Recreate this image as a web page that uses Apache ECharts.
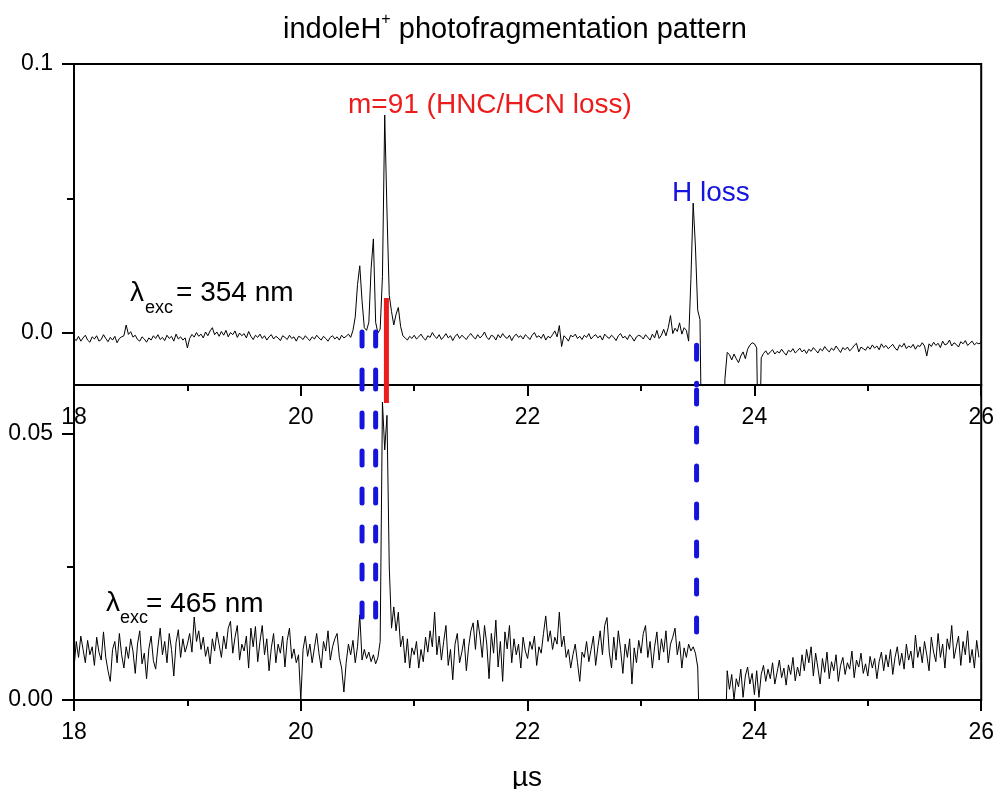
<!DOCTYPE html>
<html><head><meta charset="utf-8">
<script src="https://cdn.jsdelivr.net/npm/echarts@6/dist/echarts.min.js"></script>
<style>html,body{margin:0;padding:0;background:#fff}#c{width:997px;height:789px}</style>
</head><body><div id="c"></div><script>
// time grid of the traces (µs)
const timeStart = 18.0;
const timeStep = 0.02;
// signal values in units of 1e-4
const valueUnit = 1e-4;
const trace354 = [
-20,-28,-12,-30,-18,-8,-26,-34,-14,-22,-10,-30,-24,-6,-20,-32,-16,-26,-12,-36,-20,-14,-10,30,-5,
5,-15,-8,-24,-30,-14,-22,-34,-18,-26,-10,-20,-6,-24,-16,-28,-8,-20,-12,-30,-4,-22,-14,-26,-18,
-55,-20,-5,-15,2,-12,-4,-18,4,-10,8,20,-6,4,-12,6,-8,10,-14,2,-6,8,-16,0,-10,
-2,-18,6,-12,-24,-8,-16,-4,-20,-10,-26,-14,-6,-22,-12,-18,-28,-10,-16,-24,-8,-20,-14,-30,-12,
-16,-24,-10,-20,-28,-14,-22,-8,-18,-26,-12,-20,-30,-16,-10,-22,-14,-26,-8,-18,-12,-4,-16,10,60,
180,250,120,20,10,40,240,350,40,0,15,210,810,450,140,80,30,70,95,25,-10,-18,-26,-12,-20,
-8,-22,-14,-4,-18,-26,-10,-16,2,-12,-20,-6,-24,-14,-2,-18,-10,-28,-12,-4,-20,-8,-16,-24,-10,
-2,-14,-22,-6,-18,-10,4,-16,-24,-8,-12,-26,-6,-18,-2,-14,-20,-8,-28,-12,-4,-16,-10,-22,-6,
-14,-24,-8,2,-16,-10,-20,-4,-26,-12,-18,-6,8,-14,28,-50,-10,-18,-30,-8,-14,-4,-20,-12,-24,
-8,-16,-2,-22,-12,-6,-18,-10,-26,-4,-14,-20,-8,-16,-28,-10,-2,-18,-12,-24,-6,-16,-30,-14,-8,
-12,-22,-6,-16,-26,-4,-18,10,-20,-8,14,-10,20,65,-2,18,6,38,-4,20,10,-30,200,483,320,
85,50,-600,-600,-600,-600,-600,-600,-600,-600,-600,-600,-170,-72,-80,-100,-78,-95,-110,-85,-70,-95,-60,-45,-36,
-40,-55,-600,-92,-76,-66,-80,-70,-62,-78,-68,-74,-60,-72,-82,-64,-70,-58,-74,-66,-56,-70,-62,-76,-60,
-68,-54,-64,-74,-58,-66,-50,-62,-70,-56,-64,-48,-60,-72,-54,-62,-52,-66,-58,-46,-38,-70,-52,-58,-64,
-50,-60,-44,-56,-48,-62,-40,-54,-46,-58,-50,-42,-56,-64,-44,-52,-38,-58,-48,-54,-42,-60,-46,-50,-36,
-48,-85,-40,-50,-34,-46,-38,-54,-30,-44,-40,-26,-48,-36,-42,-52,-32,-40,-28,-46,-38,-30,-44,-36,-40,
-34
];
const trace465 = [
60,110,80,120,95,70,112,85,100,65,118,90,75,128,80,55,35,95,110,70,125,85,60,100,78,
115,92,50,105,130,68,88,40,96,120,74,58,100,135,85,110,70,125,95,45,108,132,80,115,90,
105,125,90,156,110,130,95,118,82,100,68,115,92,128,104,80,120,96,135,148,88,118,140,75,105,
92,120,60,135,100,138,72,110,140,85,115,55,98,125,70,105,88,120,62,112,135,78,96,70,85,
0,95,120,82,105,70,98,125,88,60,110,92,130,75,100,115,125,80,60,15,70,105,85,112,70,
100,160,75,95,78,90,72,85,68,80,110,560,470,535,250,135,175,130,165,100,120,70,115,60,98,
85,110,60,95,72,118,90,130,100,165,85,120,75,110,140,65,95,38,105,125,70,90,115,55,100,
130,145,95,150,120,80,140,105,40,125,88,150,62,110,35,128,96,140,70,115,85,105,60,118,92,
78,110,95,120,65,100,88,125,158,110,130,95,118,105,165,100,120,80,95,60,85,105,70,35,90,
80,110,72,95,120,65,100,130,85,140,155,90,60,118,75,130,95,50,105,80,115,30,98,70,112,
88,125,140,80,110,60,100,128,75,115,90,130,70,105,118,135,85,110,60,98,80,105,92,100,88,
62,-100,-100,-100,-100,-100,-100,-100,-100,-100,-100,-100,-100,55,20,48,0,40,25,58,5,45,62,30,
50,10,55,5,48,65,35,58,40,70,30,52,75,42,60,28,66,48,80,36,62,45,85,55,95,
70,100,45,88,60,30,78,52,90,40,72,55,85,35,65,80,48,70,58,92,42,75,62,88,50,
68,45,82,60,78,40,72,90,55,85,62,95,48,80,100,65,88,58,105,75,92,60,122,80,100,
70,110,85,55,118,90,72,125,80,105,60,115,95,140,78,100,120,65,110,85,130,70,95,60,112,
80
];
// axis ranges and ticks
const xRange = [18, 26];
const xInterval = 2;
const xMinorValues = [19, 21, 23, 25];
const topRange = [-0.0193, 0.1];
const topTickValues = [0.0, 0.1];
const topMinorValues = [0.05];
const bottomRange = [0, 0.0592];
const bottomTickValues = [0.00, 0.05];
const bottomMinorValues = [0.025];
// fragment marker lines: time, end value in upper panel, end value in lower panel
const hLossTimes = [20.54, 20.66, 23.49];
const hLossTopEnds = [0.0004, 0.0004, -0.0045];
const hLossBottomEnds = [0.0156, 0.0156, 0.0128];
const hncTime = 20.755;
const hncTopEnd = 0.013;
const hncBottomEnd = 0.0558;

const FONT = '"Liberation Sans", Arial, sans-serif';
const BLUE = '#1414dc';
const RED = '#ec1c1c';

function toPairs(arr) {
  return arr.map((v, i) => [+(timeStart + i * timeStep).toFixed(2), v * valueUnit]);
}

const axisLineStyle = { color: '#000', width: 2 };
function xAxisCfg(gridIndex) {
  return {
    type: 'value', gridIndex, min: xRange[0], max: xRange[1], interval: xInterval, position: 'bottom',
    axisLine: { show: true, onZero: false, lineStyle: axisLineStyle },
    axisTick: { show: true, inside: false, length: 11, lineStyle: axisLineStyle },
    minorTick: { show: false },
    axisLabel: { fontSize: 23, color: '#000', fontFamily: FONT, margin: 21 },
    splitLine: { show: false }, minorSplitLine: { show: false }
  };
}
function xMinorCfg(gridIndex) {
  return {
    type: 'value', gridIndex, min: xRange[0], max: xRange[1], position: 'bottom', offset: 0,
    axisLine: { show: false, onZero: false },
    axisTick: { show: true, inside: false, length: 6, lineStyle: axisLineStyle, customValues: xMinorValues },
    axisLabel: { show: false },
    splitLine: { show: false }
  };
}
function yAxisCfg(gridIndex, range, ticks, digits) {
  return {
    type: 'value', gridIndex, min: range[0], max: range[1], position: 'left',
    axisLine: { show: true, onZero: false, lineStyle: axisLineStyle },
    axisTick: { show: true, inside: false, length: 12, lineStyle: axisLineStyle, customValues: ticks },
    axisLabel: { fontSize: 23, color: '#000', fontFamily: FONT, margin: 21, customValues: ticks,
      formatter: v => (+v).toFixed(digits) },
    splitLine: { show: false }
  };
}
function yMinorCfg(gridIndex, range, ticks) {
  return {
    type: 'value', gridIndex, min: range[0], max: range[1], position: 'left', offset: 0,
    axisLine: { show: false, onZero: false },
    axisTick: { show: true, inside: false, length: 7, lineStyle: axisLineStyle, customValues: ticks },
    axisLabel: { show: false },
    splitLine: { show: false }
  };
}

const series = [
  { type: 'line', xAxisIndex: 0, yAxisIndex: 0, data: toPairs(trace354), showSymbol: false,
    lineStyle: { color: '#000', width: 1 }, clip: true, z: 2 },
  { type: 'line', xAxisIndex: 2, yAxisIndex: 2, data: toPairs(trace465), showSymbol: false,
    lineStyle: { color: '#000', width: 1 }, clip: true, z: 2 }
];
hLossTimes.forEach((t, k) => {
  const ls = { color: BLUE, width: 5, type: [14, 24], cap: 'round' };
  series.push({ type: 'line', xAxisIndex: 0, yAxisIndex: 0, showSymbol: false, clip: true, z: 3,
    data: [[t, hLossTopEnds[k]], [t, topRange[0]]], lineStyle: ls });
  series.push({ type: 'line', xAxisIndex: 2, yAxisIndex: 2, showSymbol: false, clip: true, z: 3,
    data: [[t, hLossBottomEnds[k]], [t, bottomRange[1]]], lineStyle: ls });
});
series.push({ type: 'line', xAxisIndex: 0, yAxisIndex: 0, showSymbol: false, clip: true, z: 3,
  data: [[hncTime, hncTopEnd], [hncTime, topRange[0]]], lineStyle: { color: RED, width: 5 } });
series.push({ type: 'line', xAxisIndex: 2, yAxisIndex: 2, showSymbol: false, clip: true, z: 3,
  data: [[hncTime, bottomRange[1]], [hncTime, hncBottomEnd]], lineStyle: { color: RED, width: 5 } });

function txt(x, y, text, size, color, align) {
  return { type: 'text', x, y, z: 10, silent: true,
    style: { text, fill: color || '#000', fontSize: size, fontFamily: FONT,
      align: align || 'left', textAlign: align || 'left', verticalAlign: 'middle', textVerticalAlign: 'middle' } };
}

const chart = echarts.init(document.getElementById('c'), null, { renderer: 'canvas' });
chart.setOption({
  animation: false,
  backgroundColor: '#fff',
  grid: [
    { left: 74, top: 64, width: 908, height: 321, show: true, borderColor: '#000', borderWidth: 2, containLabel: false },
    { left: 74, top: 385, width: 908, height: 315, show: true, borderColor: '#000', borderWidth: 2, containLabel: false }
  ],
  xAxis: [xAxisCfg(0), xMinorCfg(0), xAxisCfg(1), xMinorCfg(1)],
  yAxis: [
    yAxisCfg(0, topRange, topTickValues, 1),
    yMinorCfg(0, topRange, topMinorValues),
    yAxisCfg(1, bottomRange, bottomTickValues, 2),
    yMinorCfg(1, bottomRange, bottomMinorValues)
  ],
  series,
  graphic: [
    { type: 'text', x: 515, y: 30, z: 10, silent: true,
      style: { text: '{a|indoleH}{s|+}{a| photofragmentation pattern}', fill: '#000',
        align: 'center', textAlign: 'center', verticalAlign: 'middle', textVerticalAlign: 'middle',
        rich: { a: { fontSize: 29, fontFamily: FONT, fill: '#000' },
                s: { fontSize: 16, fontFamily: FONT, fill: '#000', padding: [0, 0, 20, 0] } } } },
    txt(348, 105, 'm=91 (HNC/HCN loss)', 28, RED),
    txt(672, 193, 'H loss', 28, BLUE),
    txt(130, 293, 'λ', 28),
    txt(145, 308, 'exc', 18),
    txt(176, 293, '= 354 nm', 28),
    txt(106, 603, 'λ', 28),
    txt(120, 618, 'exc', 18),
    txt(146, 604, '= 465 nm', 28),
    txt(527, 778, 'µs', 28, '#000', 'center')
  ]
});
</script></body></html>
